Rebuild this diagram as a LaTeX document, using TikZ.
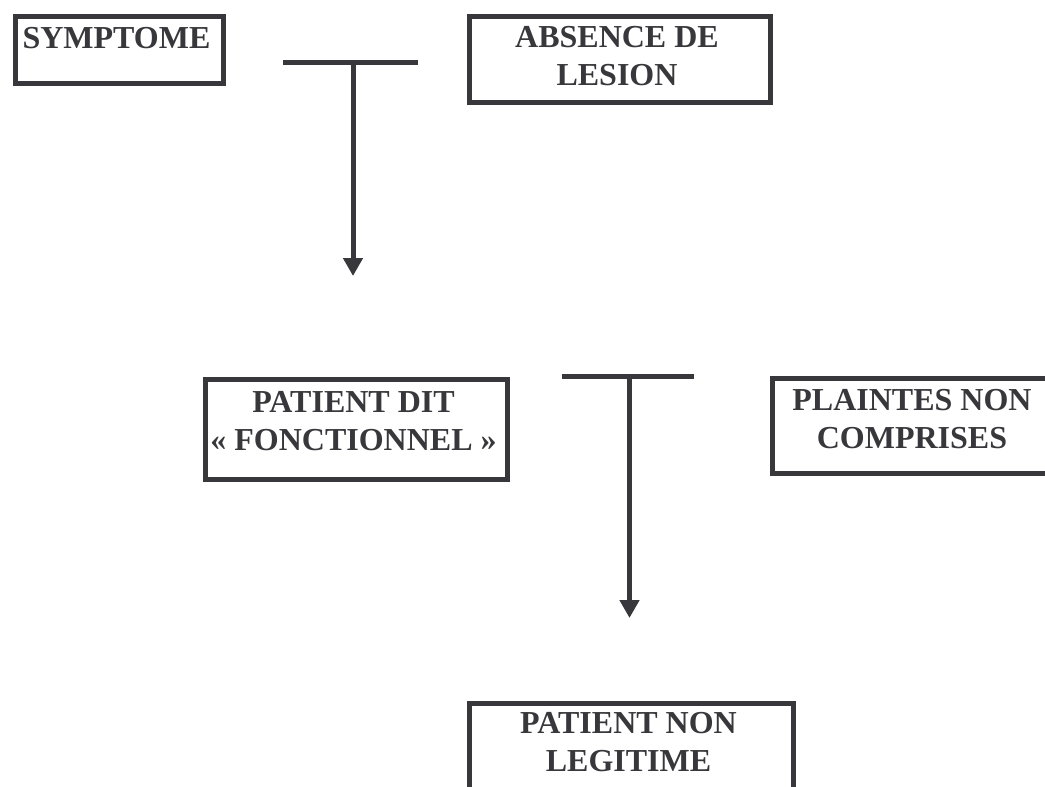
\documentclass[tikz,border=0pt]{standalone}
\usepackage{fontspec}
\setmainfont{Liberation Serif}
\usetikzlibrary{arrows.meta}
\definecolor{ink}{HTML}{38383C}
\begin{document}
\begin{tikzpicture}[x=1pt,y=-1pt,
  box/.style={draw=ink, line width=5pt, inner sep=0pt, anchor=north west},
  lbl/.style={text=ink, font=\bfseries\fontsize{32}{38}\selectfont, align=center, inner sep=0pt, anchor=north},
  bar/.style={draw=ink, line width=5pt},
  arr/.style={draw=ink, line width=5pt, -{Triangle[length=18pt,width=19pt]}}]
\useasboundingbox (0,0) rectangle (1045,787);

% framed boxes
\node[box, minimum width=208pt, minimum height=67pt] (sym) at (12.5,13.5) {};
\node[box, minimum width=301pt, minimum height=86pt] (abs) at (466.5,13.5) {};
\node[box, minimum width=302pt, minimum height=100pt] (pdf) at (202.5,376.5) {};
\node[box, minimum width=285pt, minimum height=95pt] (pnc) at (769.5,375.5) {};
\node[box, minimum width=324pt, minimum height=120pt] (pnl) at (466.5,700.5) {};

% box texts
\node[lbl] (symt) at (116.5,27) {SYMPTOME};
\node[lbl] (abst) at (617,26) {ABSENCE DE\\LESION};
\node[lbl] (pdft) at (353.5,391) {PATIENT DIT\\« FONCTIONNEL »};
\node[lbl] (pnct) at (912,389) {PLAINTES NON\\COMPRISES};
\node[lbl] (pnlt) at (628.5,712) {PATIENT NON\\LEGITIME};

% first T connector
\coordinate (t1l) at (283,62);
\coordinate (t1r) at (418,62);
\coordinate (t1m) at (353,62);
\coordinate (t1e) at (353,276);
\draw[bar] (t1l) -- (t1r);
\draw[arr] (t1m) -- (t1e);

% second T connector
\coordinate (t2l) at (562,376.5);
\coordinate (t2r) at (694,376.5);
\coordinate (t2m) at (629.5,376.5);
\coordinate (t2e) at (629.5,618);
\draw[bar] (t2l) -- (t2r);
\draw[arr] (t2m) -- (t2e);
\end{tikzpicture}
\end{document}
